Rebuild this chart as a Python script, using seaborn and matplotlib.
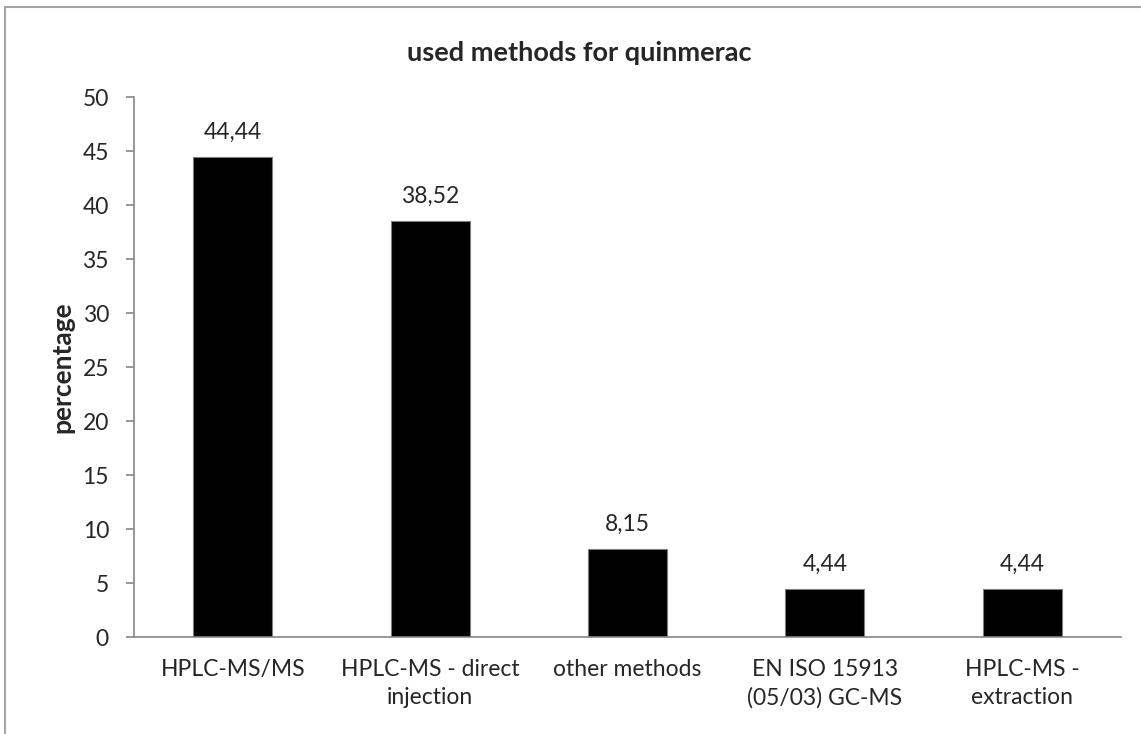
import pandas as pd
import matplotlib.pyplot as plt
import seaborn as sns
from matplotlib.patches import Rectangle

# dados
metodos = ['HPLC-MS/MS', 'HPLC-MS - direct\ninjection', 'other methods',
           'EN ISO 15913\n(05/03) GC-MS', 'HPLC-MS -\nextraction']
percentagem = [44.44, 38.52, 8.15, 4.44, 4.44]
rotulos = ['44,44', '38,52', '8,15', '4,44', '4,44']

df = pd.DataFrame({'metodo': metodos, 'pct': percentagem})

sns.set_style('white')
plt.rcParams['font.family'] = ['Lato', 'DejaVu Sans']

fig = plt.figure(figsize=(11.41, 7.34), dpi=100)
ax = fig.add_axes([134/1141, 1 - 637/734, (1121 - 134)/1141, (637 - 97)/734])

sns.barplot(data=df, x='metodo', y='pct', ax=ax, color='black', width=0.4,
            edgecolor='#7f7f7f', linewidth=0.8, saturation=1)

for i, (v, t) in enumerate(zip(percentagem, rotulos)):
    ax.text(i, v + 1.3, t, ha='center', va='bottom', fontsize=16.5)

cinza = '#868686'
ax.set_ylim(0, 50)
ax.set_xlim(-0.5, 4.5)
ax.set_yticks(range(0, 51, 5))
ax.set_xticks([i + 0.5 for i in range(-1, 5)], minor=True)
ax.tick_params(axis='x', which='major', length=0, labelsize=16.5, pad=16)
ax.tick_params(axis='x', which='minor', length=6, color=cinza, width=1.2, direction='out')
ax.tick_params(axis='y', length=6, color=cinza, width=1.2, labelsize=16.5, pad=12, left=True)
for lbl in ax.get_xticklabels():
    lbl.set_linespacing(1.4)
for lado in ['top', 'right']:
    ax.spines[lado].set_visible(False)
for lado in ['left', 'bottom']:
    ax.spines[lado].set_color(cinza)
    ax.spines[lado].set_linewidth(1.2)

ax.set_xlabel('')
ax.set_ylabel('percentage', fontsize=19, fontweight='bold', labelpad=6)
ax.set_title('used methods for quinmerac', fontsize=19.5, fontweight='bold',
             x=(579 - 134) / 987, pad=26)

# moldura do gráfico
fig.add_artist(Rectangle((5/1141, -0.5), 2, 1.5 - 7/734, transform=fig.transFigure,
                         fill=False, edgecolor='#a6a6a6', linewidth=1.5))

plt.savefig('out.png', dpi=100)
